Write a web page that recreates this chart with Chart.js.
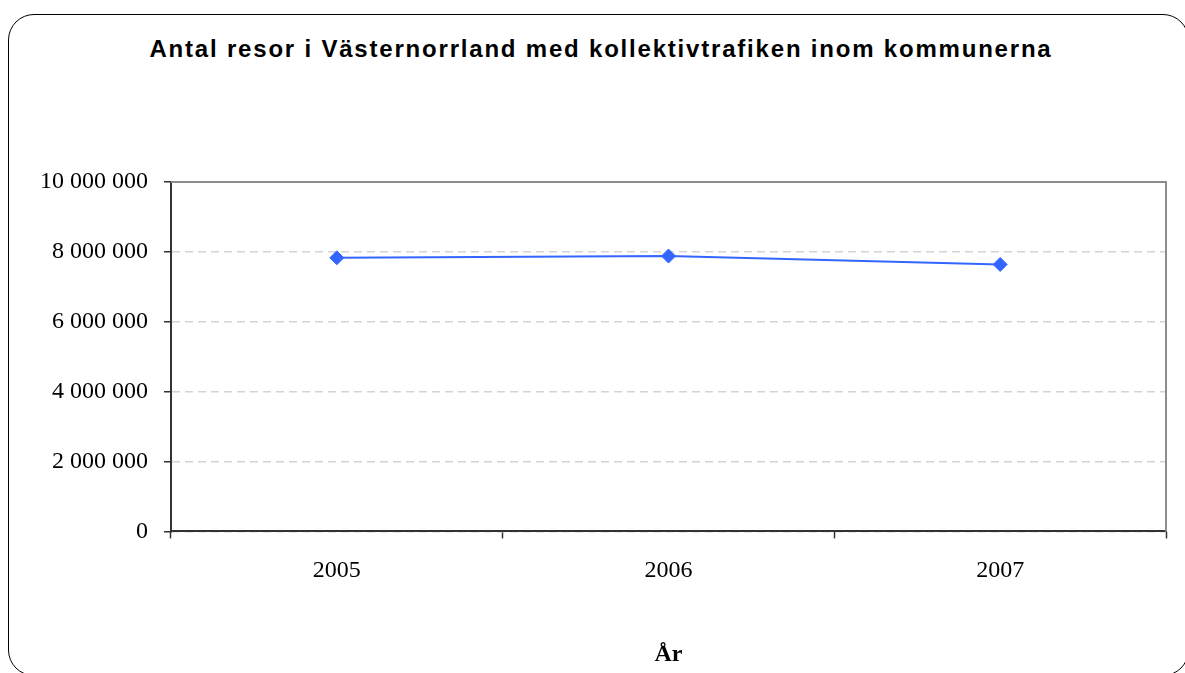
<!DOCTYPE html>
<html>
<head>
<meta charset="utf-8">
<script src="https://cdn.jsdelivr.net/npm/chart.js@4"></script>
<style>
  html, body { margin: 0; padding: 0; background: #fff; overflow: hidden; }
  #frame {
    position: absolute; left: 8px; top: 14px; width: 1181px; height: 662px;
    border: 1.5px solid #000; border-radius: 26px; box-sizing: border-box;
  }
  #title {
    position: absolute; left: 0; top: 35px; width: 1202px; text-align: center;
    font: bold 24px "Liberation Sans", Arial, sans-serif; letter-spacing: 1.8px; color: #000;
  }
  #wrap { position: absolute; left: 0; top: 0; width: 1185px; height: 673px; }
</style>
</head>
<body>
<div id="frame"></div>
<div id="title">Antal resor i Västernorrland med kollektivtrafiken inom kommunerna</div>
<div id="wrap"><canvas id="chart"></canvas></div>
<script>
// chart data
const years = ['2005', '2006', '2007'];
const trips = [7830000, 7880000, 7640000];
const yTicks = [0, 2000000, 4000000, 6000000, 8000000, 10000000];

function fmt(v) {
    return String(v).replace(/\B(?=(\d{3})+(?!\d))/g, ' ');
}

// gray frame on top and right side of the plot area
const plotFrame = {
    id: 'plotFrame',
    beforeDatasetsDraw(chart) {
        const a = chart.chartArea;
        const ctx = chart.ctx;
        ctx.save();
        ctx.strokeStyle = '#8c8c8c';
        ctx.lineWidth = 2;
        ctx.beginPath();
        ctx.moveTo(a.left, a.top);
        ctx.lineTo(a.right, a.top);
        ctx.lineTo(a.right, a.bottom);
        ctx.stroke();
        ctx.restore();
    }
};

const ctx = document.getElementById('chart').getContext('2d');
new Chart(ctx, {
    type: 'line',
    data: {
        labels: years,
        datasets: [{
            data: trips,
            borderColor: '#3366ff',
            backgroundColor: '#3366ff',
            borderWidth: 2,
            pointStyle: 'rectRot',
            pointRadius: 7,
            pointBorderWidth: 1,
            tension: 0
        }]
    },
    options: {
        responsive: true,
        maintainAspectRatio: false,
        animation: false,
        layout: { padding: { left: 24, top: 182, right: 19, bottom: 0 } },
        plugins: {
            legend: { display: false },
            tooltip: { enabled: false }
        },
        scales: {
            x: {
                offset: true,
                grid: { offset: true, drawOnChartArea: false, drawTicks: true, tickLength: 7, tickColor: '#333', tickWidth: 1.5 },
                border: { color: '#333', width: 2 },
                ticks: { color: '#000', padding: 18, font: { family: '"Liberation Serif", "Times New Roman", serif', size: 24 } },
                title: {
                    display: true, text: 'År', color: '#000',
                    padding: { top: 37, bottom: 4 },
                    font: { family: '"Liberation Serif", "Times New Roman", serif', size: 24, weight: 'bold' }
                }
            },
            y: {
                min: 0,
                max: 10000000,
                afterBuildTicks(scale) {
                    scale.ticks = yTicks.map(v => ({ value: v }));
                },
                grid: {
                    color: c => (c.tick && c.tick.value === 10000000) ? 'transparent' : '#d4d4d4',
                    lineWidth: 1.5,
                    tickLength: 7, tickColor: '#333', tickWidth: 1.5
                },
                border: { color: '#333', width: 2, dash: [8, 5] },
                ticks: {
                    color: '#000', padding: 16,
                    font: { family: '"Liberation Serif", "Times New Roman", serif', size: 24 },
                    callback: v => fmt(v)
                }
            }
        }
    },
    plugins: [plotFrame]
});
</script>
</body>
</html>
